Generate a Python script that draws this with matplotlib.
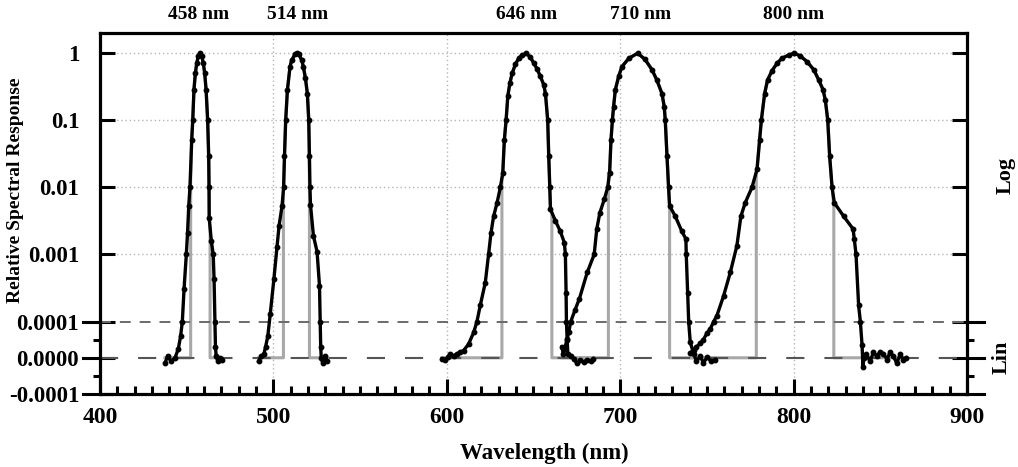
import numpy as np
import matplotlib
matplotlib.use('Agg')
import matplotlib.pyplot as plt

plt.rcParams['font.family'] = ['Liberation Serif', 'DejaVu Serif']
plt.rcParams['font.weight'] = 'bold'

# Données (longueur d'onde en nm, réponse relative)
wl_458 = [437.5, 439.0, 441.0, 443.3, 445.2, 446.5, 447.5, 448.5, 449.8, 450.5, 451.2, 451.9,
          452.9, 453.5, 454.2, 455.0, 455.8, 456.7, 457.7, 458.7, 459.6, 460.4, 461.2, 462.1, 462.7,
          462.9, 463.0, 464.2, 465.3, 465.8, 466.3, 466.6, 467.0, 468.0, 469.5, 470.5]
resp_458 = [-0.15e-4, 0.05e-4, -0.1e-4, 0.0, 0.25e-4, 0.6e-4, 1e-4, 3.1e-4, 1e-3, 2.1e-3, 5.3e-3, 0.01,
            0.051, 0.1, 0.285, 0.5, 0.71, 0.9, 1.0, 0.9, 0.71, 0.5, 0.285, 0.1, 0.029,
            0.01, 0.0035, 0.0016, 0.001, 4.3e-4, 1e-4, 0.3e-4, 0.05e-4, -0.1e-4, 0.0, -0.05e-4]

wl_514 = [491.5, 493.0, 494.5, 495.5, 496.8, 498.2, 500.3, 502.1, 503.3, 505.0, 505.9, 506.4,
          507.1, 508.1, 509.6, 510.5, 512.5, 513.5, 514.5, 516.3, 517.3, 518.5, 519.6, 520.4,
          520.8, 521.1, 521.4, 523.1, 525.2, 526.6, 527.0, 527.3, 527.6, 528.5, 530.0, 531.0]
resp_514 = [-0.1e-4, 0.05e-4, 0.1e-4, 0.3e-4, 0.6e-4, 1.3e-4, 4.3e-4, 1.3e-3, 2.7e-3, 5.3e-3, 0.01, 0.029,
            0.1, 0.285, 0.63, 0.78, 0.97, 1.0, 0.97, 0.8, 0.63, 0.42, 0.25, 0.1,
            0.029, 0.01, 0.0055, 0.0019, 0.0011, 3.4e-4, 1e-4, 0.3e-4, 0.0, -0.15e-4, 0.05e-4, -0.1e-4]

wl_646 = [597.2, 599.1, 600.5, 602.0, 604.0, 605.8, 607.5, 609.7, 612.6, 615.5, 617.4, 619.3,
          622.2, 624.1, 625.5, 627.0, 629.0, 630.9, 632.3, 633.2, 634.2, 635.2, 636.4, 637.7,
          639.6, 641.5, 643.5, 645.9, 648.2, 650.2, 652.1, 654.0, 655.9, 656.9, 658.2, 658.8,
          659.4, 659.8, 662.6, 665.5, 667.8, 668.4, 668.8, 669.0, 669.4, 669.8, 671.5, 673.3,
          675.0, 677.1, 679.0, 681.0, 683.0, 684.5]
resp_646 = [-0.03e-4, -0.07e-4, 0.02e-4, 0.11e-4, 0.05e-4, 0.11e-4, 0.15e-4, 0.2e-4, 0.38e-4, 0.7e-4, 1e-4, 1.74e-4,
            3.8e-4, 1e-3, 2.1e-3, 3.7e-3, 5.9e-3, 0.01, 0.0165, 0.051, 0.1, 0.23, 0.36, 0.5,
            0.69, 0.84, 0.94, 1.0, 0.87, 0.71, 0.58, 0.45, 0.34, 0.25, 0.1, 0.029,
            0.01, 4.7e-3, 3.2e-3, 2.2e-3, 1.5e-3, 1e-3, 2.7e-4, 1e-4, 0.52e-4, 0.11e-4, 0.05e-4, -0.03e-4,
            -0.15e-4, -0.07e-4, -0.12e-4, -0.05e-4, -0.1e-4, -0.03e-4]

wl_710 = [666.4, 667.2, 668.0, 669.3, 670.3, 671.5, 674.0, 676.5, 681.0, 685.0, 686.5, 688.3,
          690.8, 692.8, 693.9, 694.7, 695.5, 696.2, 697.2, 699.1, 701.0, 705.0, 710.1, 714.3,
          718.3, 721.1, 724.1, 725.4, 726.0, 727.0, 727.9, 728.5, 731.8, 735.6, 737.9, 738.1,
          738.9, 739.5, 740.4, 742.4, 744.0, 746.2, 748.0, 750.1, 752.5, 754.9]
resp_710 = [0.3e-4, 0.1e-4, 0.25e-4, 0.5e-4, 0.7e-4, 1e-4, 1.5e-4, 2.2e-4, 5.4e-4, 1e-3, 2.4e-3, 4.2e-3,
            6.6e-3, 0.01, 0.0165, 0.051, 0.1, 0.16, 0.285, 0.45, 0.63, 0.84, 1.0, 0.81,
            0.57, 0.40, 0.25, 0.16, 0.1, 0.029, 0.01, 5.3e-3, 3.7e-3, 2.2e-3, 1.7e-3, 1e-3,
            2.7e-4, 1e-4, 0.43e-4, 0.11e-4, -0.1e-4, 0.05e-4, -0.15e-4, 0.02e-4, -0.1e-4, -0.05e-4]

wl_800 = [740.4, 742.4, 744.0, 746.2, 748.0, 750.0, 752.0, 753.9, 755.8, 759.6, 763.5, 767.3,
          769.6, 772.1, 776.0, 778.9, 780.4, 781.4, 783.3, 785.0, 787.6, 790.5, 793.3, 797.2,
          800.4, 803.9, 807.7, 811.6, 814.5, 817.0, 818.3, 819.7, 820.8, 822.2, 823.5, 828.9,
          834.3, 835.0, 836.0, 837.5, 838.5, 839.5, 840.0, 840.5, 842.0, 844.1, 846.0, 848.0,
          850.0, 851.8, 854.0, 855.5, 857.5, 859.5, 861.5, 863.3, 865.0]
resp_800 = [0.14e-4, 0.22e-4, 0.3e-4, 0.4e-4, 0.5e-4, 0.68e-4, 0.8e-4, 1e-4, 1.23e-4, 2.4e-4, 5.4e-4, 1.35e-3,
            3.7e-3, 5.9e-3, 0.01, 0.0185, 0.051, 0.1, 0.25, 0.4, 0.55, 0.71, 0.84, 0.94,
            1.0, 0.91, 0.75, 0.57, 0.4, 0.285, 0.2, 0.1, 0.029, 0.01, 5.9e-3, 3.7e-3,
            2.4e-3, 1.7e-3, 1e-3, 1.74e-4, 1e-4, 0.34e-4, -0.26e-4, 0.0, 0.1e-4, -0.1e-4, 0.15e-4, 0.05e-4,
            0.17e-4, 0.11e-4, -0.05e-4, 0.15e-4, 0.05e-4, -0.15e-4, 0.1e-4, -0.05e-4, 0.0]

# bords de la bande passante (courbe grise) : bord bas, niveau haut, bord haut, niveau haut
gray_lo = [452.3, 505.8, 631.8, 693.2, 778.5]
gray_lo_top = [0.012, 0.01, 0.0125, 0.0165, 0.0165]
gray_hi = [463.5, 520.8, 660.6, 728.5, 823.2]
gray_hi_top = [0.0022, 0.01, 0.0042, 0.005, 0.005]

peak_labels = ['458 nm', '514 nm', '646 nm', '710 nm', '800 nm']
peak_label_x = [457, 514, 646, 712, 800]

y_ticks = [1, 0.1, 0.01, 0.001, 0.0001, 0.0, -0.0001]
y_ticklabels = ['1', '0.1', '0.01', '0.001', '0.0001', '0.0000', '-0.0001']
log_grid = [1, 0.1, 0.01, 0.001]

# échelle mixte : log au-dessus de 1e-4, linéaire en dessous
R = 0.54


def fwd(y):
    y = np.asarray(y, dtype=float)
    logpart = np.log10(np.clip(y, 1e-4, None))
    linpart = -4 - (1e-4 - y) / 1e-4 * R
    return np.where(y >= 1e-4, logpart, linpart)


def inv(u):
    u = np.asarray(u, dtype=float)
    logpart = 10.0 ** np.clip(u, -4, None)
    linpart = 1e-4 - (-4 - u) / R * 1e-4
    return np.where(u >= -4, logpart, linpart)


fig = plt.figure(figsize=(10.18, 4.67), dpi=100)
ax = fig.add_axes([0.0982, 0.1563, 0.8517, 0.773])
ax.set_yscale('function', functions=(fwd, inv))
ax.set_xlim(400, 900)
ax.set_ylim(-1e-4, 2.0)

# grille pointillée
for g in log_grid:
    ax.axhline(g, color='#b5b5b5', lw=1.0, ls=(0, (1, 2)), zorder=0.5)
for gx in [500, 600, 700, 800]:
    ax.axvline(gx, color='#b5b5b5', lw=1.0, ls=(0, (1, 2)), zorder=0.5)

# lignes de séparation log / lin
ax.axhline(1e-4, color='#6a6a6a', lw=1.4, ls=(0, (5.6, 4.6)), zorder=2)
ax.axhline(0.0, color='#555555', lw=1.5, ls=(0, (8.7, 9.6)), zorder=2)

series = [(wl_458, resp_458), (wl_514, resp_514), (wl_646, resp_646),
          (wl_710, resp_710), (wl_800, resp_800)]

for i, (wl, resp) in enumerate(series):
    lo, hi = gray_lo[i], gray_hi[i]
    inner = [(w, r) for w, r in zip(wl, resp) if lo < w < hi]
    gx = [wl[0], lo, lo] + [w for w, r in inner] + [hi, hi, wl[-1]]
    gy = [0, 0, gray_lo_top[i]] + [r for w, r in inner] + [gray_hi_top[i], 0, 0]
    ax.plot(gx, gy, color='#a8a8a8', lw=2.2, zorder=1)
    ax.plot(wl, resp, color='black', lw=2.4, marker='o', ms=3.2, zorder=3)

for lab, lx in zip(peak_labels, peak_label_x):
    ax.text(lx, 1.05, lab, transform=ax.get_xaxis_transform(), ha='center', va='center',
            fontsize=14, fontweight='bold')

# axes
for s in ax.spines.values():
    s.set_linewidth(2.3)

ax.set_yticks(y_ticks, labels=y_ticklabels)
ax.set_yticks([5e-5, -5e-5], minor=True)
ax.set_xticks(range(400, 901, 100))
ax.set_xticks(range(400, 901, 10), minor=True)

ax.tick_params(axis='y', which='major', direction='in', length=11, width=2.2,
               left=True, right=True, labelsize=16.5, pad=15)
ax.tick_params(axis='y', which='minor', direction='out', length=5, width=2.2,
               left=True, right=True)
ax.tick_params(axis='x', which='major', direction='in', length=11, width=2.2,
               top=False, labelsize=17, pad=9)
ax.tick_params(axis='x', which='minor', direction='in', length=6, width=2.2, top=False)

# ticks débordant vers l'extérieur dans la partie linéaire
ytr = ax.get_yaxis_transform()
for yv in [1e-4, 0.0, -1e-4]:
    ax.plot([-0.02, 0], [yv, yv], transform=ytr, color='black', lw=2.2, clip_on=False)
    ax.plot([1, 1.02], [yv, yv], transform=ytr, color='black', lw=2.2, clip_on=False)

ax.text(1.044, 0.015, 'Log', transform=ytr, rotation=90, ha='center', va='center',
        fontsize=16, fontweight='bold')
ax.text(1.04, 0.0, 'Lin', transform=ytr, rotation=90, ha='center', va='center',
        fontsize=16, fontweight='bold')

ax.set_xlabel('Wavelength (nm)', fontsize=16.5, fontweight='bold')
ax.xaxis.set_label_coords(0.512, -0.135)
ax.set_ylabel('Relative Spectral Response', fontsize=14, fontweight='bold')
ax.yaxis.set_label_coords(-0.088, 0.565)

fig.savefig('out.png', dpi=100)
plt.close()
